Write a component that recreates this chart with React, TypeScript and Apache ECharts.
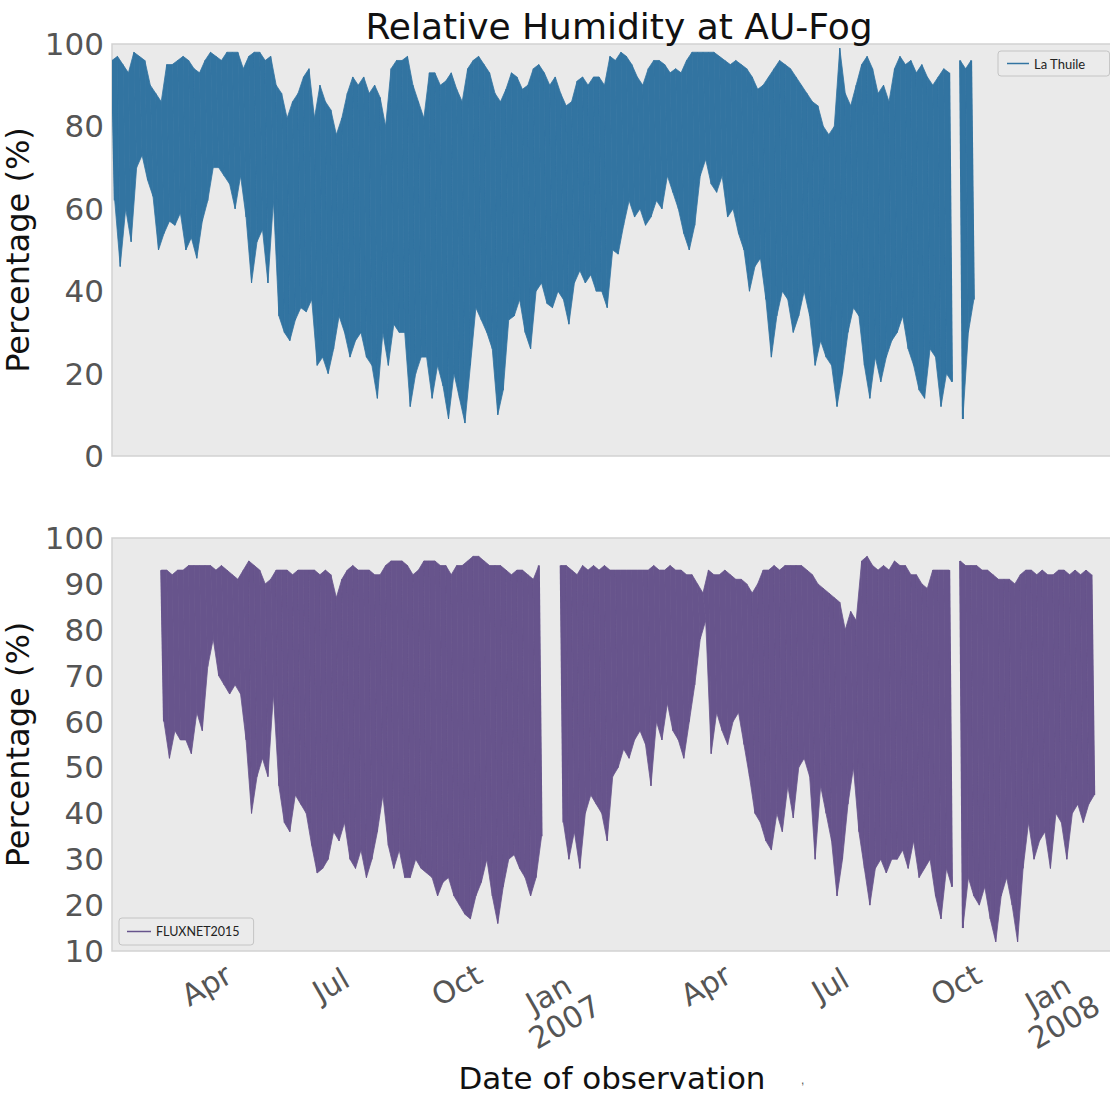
import React, { useEffect, useRef } from "react";
import * as echarts from "echarts";

// ---- data (4-day buckets: max then min) ----
const BUCKET_DAYS = 4;
const topStartDate = "2006-01-22";
const bottomStartDate = "2006-02-27";

// La Thuile (top panel)
const topHigh = [
  96, 97, 95, 93, 98, 97, 96, 90, 88, 86,
  95, 95, 96, 97, 96, 94, 93, 96, 98, 97,
  96, 98, 98, 98, 94, 97, 98, 98, 96, 97,
  90, 88, 82, 86, 88, 92, 94, 82, 90, 86,
  84, 78, 82, 88, 92, 90, 92, 88, 90, 87,
  80, 94, 96, 96, 97,
  90, 86, 82, 93, 93,
  90, 91, 93, 89, 86, 94, 96, 97, 95, 93,
  88, 86, 89, 93, 92, 89, 90, 94, 95, 93,
  90, 92, 88, 85, 86, 91, 92, 90, 92, 92,
  90, 97, 96, 98, 97, 95, 92, 90, 94, 96,
  96, 95, 93, 94, 93, 96, 98, 98, 98,
  98, 98, 97, 96, 95, 96, 95, 94, 92, 89, 90,
  92, 94, 96, 95, 94, 92, 90, 88, 86, 85,
  80, 78, 80, 99, 88, 85, 90, 95, 97, 94,
  88, 90, 86, 94, 97, 95, 96, 93, 95, 92,
  90, 92, 94, 93, null, 96, 94, 96,
];
const topLow = [
  62, 46, 60, 52, 70, 73, 67, 63, 50, 54,
  57, 56, 59, 50, 53, 48, 57, 62, 70, 70,
  68, 66, 60, 68, 58, 42, 52, 55, 42, 62,
  34, 30, 28, 33, 36, 35, 38, 22, 24, 20,
  26, 34, 30, 24, 28, 30, 24, 22, 14, 30,
  22, 32, 30, 30, 12,
  20, 24, 24, 14, 22,
  17, 9, 20, 14, 8, 22, 36, 33, 30, 26,
  10, 16, 33, 34, 38, 30, 26, 40, 42, 37,
  36, 40, 38, 32, 42, 45, 42, 44, 40, 40,
  36, 50, 49, 56, 62, 58, 60, 56, 58, 62,
  60, 68, 64, 60, 54, 50, 56, 68, 72,
  66, 64, 68, 58, 60, 54, 50, 40, 46, 48, 38,
  24, 34, 40, 38, 30, 34, 40, 34, 22, 28,
  24, 22, 12, 20, 30, 36, 34, 22, 14, 24,
  18, 24, 28, 30, 34, 26, 22, 16, 14, 26,
  24, 12, 20, 18, null, 9, 30, 38,
];

// FLUXNET2015 (bottom panel)
const bottomHigh = [
  93, 93, 92, 93, 93, 94, 94, 94, 94, 94,
  93, 94, 93, 92, 91, 93, 95, 94, 93, 90,
  91, 93, 93, 93, 92, 93, 93, 93, 93, 92,
  93, 92, 87, 91, 93, 94, 93, 93, 93, 92,
  92, 94, 95, 95, 95, 94, 92, 93, 95, 95,
  95, 94, 94, 92, 94, 94, 95, 96, 96, 95,
  94, 94, 94, 93, 92, 93, 93, 92, 91, 94,
  null, null, null,
  94, 94, 93, 92, 94, 93, 94, 93, 94, 93,
  93, 93, 93, 93, 93, 93, 93, 94, 93, 93,
  94, 93, 93, 92, 92, 90, 88, 93, 92, 92,
  93, 92, 91, 91, 90, 88, 90, 93, 93, 94,
  93, 94, 94, 94, 94, 93, 92, 90, 89, 88,
  87, 86, 80, 84, 82, 95, 96, 94, 93, 94,
  93, 95, 94, 94, 92, 92, 90, 89, 93, 93,
  93, 93, null, 95, 94, 94, 94, 93, 93, 92,
  91, 91, 91, 90, 92, 93, 93, 92, 93, 92,
  92, 93, 93, 92, 93, 92, 93, 92,
];
const bottomLow = [
  60, 52, 58, 56, 56, 53, 62, 58, 72, 78,
  70, 68, 66, 68, 66, 56, 40, 48, 52, 48,
  66, 46, 38, 36, 44, 42, 40, 33, 27, 28,
  30, 36, 34, 38, 30, 28, 32, 26, 30, 36,
  44, 33, 28, 32, 26, 26, 30, 28, 27, 26,
  22, 25, 26, 22, 20, 18, 17, 22, 25, 30,
  22, 16, 24, 30, 31, 28, 26, 22, 26, 35,
  null, null, null,
  38, 30, 36, 28, 40, 44, 42, 40, 34, 48,
  50, 54, 52, 56, 58, 55, 46, 60, 56, 64,
  58, 56, 52, 60, 68, 78, 82, 53, 62, 58,
  55, 60, 62, 55, 48, 40, 38, 34, 32, 40,
  36, 46, 39, 50, 52, 48, 30, 46, 40, 34,
  22, 30, 42, 50, 36, 28, 20, 28, 30, 27,
  30, 30, 32, 28, 34, 26, 28, 30, 22, 17,
  28, 24, null, 15, 26, 22, 20, 24, 17, 12,
  22, 26, 20, 12, 28, 38, 30, 34, 36, 28,
  40, 38, 30, 40, 42, 38, 42, 44,
];

const axisStartDate = "2006-01-22";
const axisEndDate = "2008-01-23";
const quarterTickDates = ["2006-04-01", "2006-07-01", "2006-10-01", "2007-04-01", "2007-07-01", "2007-10-01"];
const quarterTickLabels = ["Apr", "Jul", "Oct", "Apr", "Jul", "Oct"];
const yearTickDates = ["2007-01-01", "2008-01-01"];
const yearTickLabels = ["Jan\n2007", "Jan\n2008"];

// ---- helpers ----
const DAY = 86400000;
const toTime = (s: string) => {
  const [y, m, d] = s.split("-").map(Number);
  return Date.UTC(y, m - 1, d);
};
// one quad per pair of consecutive buckets: upper edge through the maxima,
// lower edge through the minima (placed half a bucket later)
function buildBand(start: string, hi: (number | null)[], lo: (number | null)[]) {
  const t0 = toTime(start);
  const step = BUCKET_DAYS * DAY;
  const h = step / 2;
  const items: number[][] = [];
  for (let i = 0; i + 1 < hi.length; i++) {
    if (hi[i] == null || hi[i + 1] == null || lo[i] == null || lo[i + 1] == null) continue;
    const ta = t0 + i * step;
    const tb = ta + step;
    items.push([ta, hi[i] as number, tb, hi[i + 1] as number, tb + h, lo[i + 1] as number, ta + h, lo[i] as number]);
  }
  return items;
}
// isolated buckets (neighbours missing) drawn as a single spike
function buildSpikes(start: string, hi: (number | null)[], lo: (number | null)[]) {
  const t0 = toTime(start);
  const step = BUCKET_DAYS * DAY;
  const items: number[][] = [];
  for (let i = 0; i < hi.length; i++) {
    if (hi[i] == null || lo[i] == null) continue;
    const prevOk = i > 0 && hi[i - 1] != null;
    const nextOk = i + 1 < hi.length && hi[i + 1] != null;
    if (!prevOk || !nextOk) items.push([t0 + i * step, hi[i] as number, t0 + i * step + step / 2, lo[i] as number]);
  }
  return items;
}

const BLUE = "#3274a1";
const PURPLE = "#67548c";
const FONT = "DejaVu Sans";

function bandSeries(name: string, idx: number, color: string, data: number[][]) {
  return {
    type: "custom",
    name,
    xAxisIndex: idx,
    yAxisIndex: idx,
    data,
    clip: true,
    encode: { x: [0, 2, 4, 6], y: [1, 3, 5, 7] },
    itemStyle: { color },
    renderItem: (_p: any, api: any) => {
      const pts = [
        api.coord([api.value(0), api.value(1)]),
        api.coord([api.value(2), api.value(3)]),
        api.coord([api.value(4), api.value(5)]),
        api.coord([api.value(6), api.value(7)]),
      ];
      return {
        type: "polygon",
        shape: { points: pts },
        style: { fill: color, stroke: color, lineWidth: 0.8 },
      };
    },
  };
}
function spikeSeries(name: string, idx: number, color: string, data: number[][]) {
  return {
    type: "custom",
    name,
    xAxisIndex: idx,
    yAxisIndex: idx,
    data,
    clip: true,
    encode: { x: [0, 2], y: [1, 3] },
    itemStyle: { color },
    renderItem: (_p: any, api: any) => {
      const a = api.coord([api.value(0), api.value(1)]);
      const b = api.coord([api.value(2), api.value(3)]);
      return {
        type: "line",
        shape: { x1: a[0], y1: a[1], x2: b[0], y2: b[1] },
        style: { stroke: color, lineWidth: 2 },
      };
    },
  };
}

export default function App() {
  const ref = useRef<HTMLDivElement>(null);

  useEffect(() => {
    if (!ref.current) return;
    const chart = echarts.init(ref.current, null, { renderer: "svg" });
    const axisMin = toTime(axisStartDate);
    const axisMax = toTime(axisEndDate);
    const qTimes = quarterTickDates.map(toTime);
    const yTimes = yearTickDates.map(toTime);
    const lookup = (times: number[], labels: string[]) => (v: number) => {
      const idx = times.findIndex((t) => Math.abs(t - v) < DAY / 2);
      return idx >= 0 ? labels[idx] : "";
    };

    const gridBase = {
      left: 112,
      width: 1000,
      show: true,
      outerBoundsMode: "none",
      containLabel: false,
      backgroundColor: "#eaeaea",
      borderColor: "#d2d2d2",
      borderWidth: 1.5,
    };
    const hiddenX = {
      type: "value",
      min: axisMin,
      max: axisMax,
      axisLine: { show: false },
      axisTick: { show: false },
      splitLine: { show: false },
    };
    const yBase = {
      type: "value",
      axisLine: { show: false },
      axisTick: { show: false },
      splitLine: { show: false },
      axisLabel: { fontSize: 31, color: "#555555", fontFamily: FONT, margin: 8 },
      name: "Percentage (%)",
      nameLocation: "middle",
      nameGap: 72,
      nameTextStyle: { fontSize: 32, color: "#111111", fontFamily: FONT },
    };
    const xLabel = {
      rotate: 30,
      align: "center",
      verticalAlign: "middle",
      fontSize: 30,
      color: "#555555",
      fontFamily: FONT,
    };

    chart.setOption({
      animation: false,
      backgroundColor: "#ffffff",
      title: {
        text: "Relative Humidity at AU-Fog",
        left: 614,
        top: 3,
        textAlign: "center",
        textStyle: { fontFamily: FONT, fontSize: 36, fontWeight: "normal", color: "#111111" },
      },
      grid: [
        { ...gridBase, top: 44, height: 412 },
        { ...gridBase, top: 538, height: 413 },
      ],
      xAxis: [
        { ...hiddenX, gridIndex: 0, axisLabel: { show: false } },
        {
          ...hiddenX,
          gridIndex: 1,
          position: "bottom",
          axisLabel: {
            ...xLabel,
            customValues: qTimes,
            formatter: lookup(qTimes, quarterTickLabels),
            margin: 34,
          },
          name: "Date of observation",
          nameLocation: "middle",
          nameGap: 111,
          nameTextStyle: { fontSize: 31, color: "#111111", fontFamily: FONT },
        },
        {
          ...hiddenX,
          gridIndex: 1,
          position: "bottom",
          axisLabel: {
            ...xLabel,
            customValues: yTimes,
            formatter: lookup(yTimes, yearTickLabels),
            margin: 42,
            lineHeight: 32,
            padding: [0, 60, 0, 0],
          },
        },
      ],
      yAxis: [
        { ...yBase, gridIndex: 0, min: 0, max: 100, interval: 20 },
        { ...yBase, gridIndex: 1, min: 10, max: 100, interval: 10 },
      ],
      legend: [
        {
          data: ["La Thuile"],
          left: 998,
          top: 51,
          icon: "rect",
          itemWidth: 22,
          itemHeight: 1.5,
          itemGap: 5,
          padding: [6, 24, 6, 9],
          borderColor: "#c4c4c4",
          borderWidth: 1,
          borderRadius: 3,
          backgroundColor: "#ebebeb",
          textStyle: { fontFamily: "Lato", fontSize: 13, color: "#222222" },
        },
        {
          data: ["FLUXNET2015"],
          left: 119,
          top: 918,
          icon: "rect",
          itemWidth: 24,
          itemHeight: 1.5,
          itemGap: 6,
          padding: [7, 14, 7, 8],
          borderColor: "#c4c4c4",
          borderWidth: 1,
          borderRadius: 3,
          backgroundColor: "#ebebeb",
          textStyle: { fontFamily: "Lato", fontSize: 12.5, color: "#222222" },
        },
      ],
      graphic: [
        { type: "text", left: 801, top: 1074, style: { text: ",", fontSize: 12, fill: "#555555" } },
      ],
      series: [
        bandSeries("La Thuile", 0, BLUE, buildBand(topStartDate, topHigh, topLow)),
        spikeSeries("La Thuile", 0, BLUE, buildSpikes(topStartDate, topHigh, topLow)),
        bandSeries("FLUXNET2015", 1, PURPLE, buildBand(bottomStartDate, bottomHigh, bottomLow)),
        spikeSeries("FLUXNET2015", 1, PURPLE, buildSpikes(bottomStartDate, bottomHigh, bottomLow)),
      ],
    });
    return () => chart.dispose();
  }, []);

  return (
    <div
      ref={ref}
      style={{ position: "absolute", left: 0, top: 0, width: 1110, height: 1095, overflow: "hidden" }}
    />
  );
}
